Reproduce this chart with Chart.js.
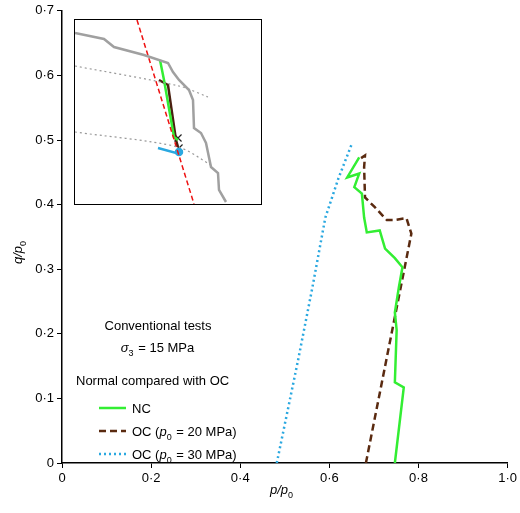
<!DOCTYPE html><html><head><meta charset="utf-8">
<script src="https://cdn.jsdelivr.net/npm/chart.js@4"></script>
<style>body{margin:0;background:#fff}#w{position:relative;width:520px;height:513px}
#m{position:absolute;left:0;top:0}#ib{position:absolute;left:74px;top:19px;width:186px;height:184px;border:1.5px solid #000;background:#fff;overflow:hidden}</style></head><body>
<div id="w"><canvas id="m" width="520" height="513"></canvas><div id="ib"><canvas id="ic" width="186" height="184"></canvas></div></div>
<script>
const ncP=[0.747,0.767,0.747,0.751,0.747,0.756,0.764,0.747,0.725,0.713,0.684,0.678,0.673,0.656,0.667,0.64,0.667];
const ncQ=[0,0.117,0.125,0.206,0.233,0.272,0.303,0.317,0.332,0.36,0.357,0.38,0.417,0.427,0.448,0.442,0.473];
const oc20P=[0.682,0.784,0.773,0.744,0.729,0.702,0.68,0.678,0.68,0.669];
const oc20Q=[0,0.355,0.379,0.376,0.376,0.396,0.411,0.458,0.476,0.471];
const oc30P=[0.482,0.53,0.562,0.591,0.62,0.651];
const oc30Q=[0,0.16,0.272,0.38,0.44,0.495];
const xTicks=[0,0.2,0.4,0.6,0.8,1.0];
const yTicks=[0,0.1,0.2,0.3,0.4,0.5,0.6,0.7];
// inset (relative units in inset box)
const inGrayX=[0,29,39,69,93,98,104,114,118,119,126,131,136,143,144,151];
const inGrayY=[171,165,157,149,141,132,124,114,104,76,71,61,37,31,14,2];
const inDot1X=[0,104,133];const inDot1Y=[138,118,107];
const inDot2X=[0,103,136];const inDot2Y=[72,57,39];
const inRedX=[62,119];const inRedY=[184,0];
const inNcX=[85,89,99,103];const inNcY=[144,124,67,64];
const inOcX=[84,93,101,103];const inOcY=[124,119,64,57];
const inO3X=[83,101,104];const inO3Y=[56,51,52];
const inXmX=[103,104];const inXmY=[66,56];
const pts=(a,b)=>a.map((v,i)=>({x:v,y:b[i]}));
const dot=s=>s.replace('.','·');
const F='"Liberation Sans", Arial, sans-serif';
const textPlugin={id:'t',afterDraw(c){const x=c.ctx;x.save();x.fillStyle='#000';x.font='13px '+F;x.textAlign='center';
x.fillText('Conventional tests',158,330);
x.font='13px '+F;const s1='σ',s2=' = 15 MPa';x.textAlign='left';
x.font='italic 13px '+F;let w1=x.measureText(s1).width;x.font='13px '+F;let w2=x.measureText(s2).width;let sx=158-(w1+7+w2)/2;
x.font='italic 13px '+F;x.fillText(s1,sx,352);x.font='9px '+F;x.fillText('3',sx+w1,356);x.font='13px '+F;x.fillText(s2,sx+w1+6,352);
x.fillText('Normal compared with OC',76,385);
const L=[['NC','#33ee33',[]],['OC (','#5a2a10',[7,4]],['OC (','#2aa8e0',[2,3]]];
L.forEach((l,i)=>{const y=408+i*23;x.strokeStyle=l[1];x.lineWidth=2.5;x.setLineDash(l[2]);x.beginPath();x.moveTo(99,y);x.lineTo(126,y);x.stroke();x.setLineDash([]);
x.fillStyle='#000';x.font='13px '+F;let px=132;x.fillText(l[0],px,y+5);if(i>0){px+=x.measureText(l[0]).width;x.font='italic 13px '+F;x.fillText('p',px,y+5);px+=x.measureText('p').width;x.font='9px '+F;x.fillText('0',px,y+9);px+=6;x.font='13px '+F;x.fillText(i==1?' = 20 MPa)':' = 30 MPa)',px,y+5);}});
x.font='italic 13px '+F;x.textAlign='left';x.fillText('p/p',270,494);let ww=x.measureText('p/p').width;x.font='9px '+F;x.fillText('0',270+ww,498);
x.translate(22,250);x.rotate(-Math.PI/2);x.font='italic 13px '+F;x.fillText('q/p',-14,0);ww=x.measureText('q/p').width;x.font='9px '+F;x.fillText('0',-14+ww,4);
x.restore();}};
new Chart(document.getElementById('m'),{type:'scatter',data:{datasets:[
{data:pts(ncP,ncQ),showLine:true,borderColor:'#33ee33',borderWidth:2.5,pointRadius:0},
{data:pts(oc20P,oc20Q),showLine:true,borderColor:'#5a2a10',borderWidth:2.5,borderDash:[7,4],pointRadius:0},
{data:pts(oc30P,oc30Q),showLine:true,borderColor:'#2aa8e0',borderWidth:2.5,borderDash:[2,3],pointRadius:0}]},
options:{responsive:false,animation:false,layout:{padding:{top:10,right:8}},plugins:{legend:{display:false},tooltip:{enabled:false}},
scales:{x:{min:0,max:1,afterBuildTicks(s){s.ticks=xTicks.map(v=>({value:v}))},afterFit(s){s.height=50},border:{color:'#000',width:1.5},grid:{drawOnChartArea:false,color:'#000',tickLength:5},ticks:{color:'#000',font:{size:13,family:F},callback:v=>v===1?'1·0':dot(String(v))}},
y:{min:0,max:0.7,afterBuildTicks(s){s.ticks=yTicks.map(v=>({value:v}))},afterFit(s){s.width=62},border:{color:'#000',width:1.5},grid:{drawOnChartArea:false,color:'#000',tickLength:5},ticks:{color:'#000',font:{size:13,family:F},callback:v=>dot(String(+v.toFixed(1)))}}}},plugins:[textPlugin]});
new Chart(document.getElementById('ic'),{type:'scatter',data:{datasets:[
{data:pts(inGrayX,inGrayY),showLine:true,borderColor:'#a0a0a0',borderWidth:2.5,pointRadius:0},
{data:pts(inDot1X,inDot1Y),showLine:true,borderColor:'#999',borderWidth:1.2,borderDash:[2,3],pointRadius:0,tension:0.3},
{data:pts(inDot2X,inDot2Y),showLine:true,borderColor:'#999',borderWidth:1.2,borderDash:[2,3],pointRadius:0,tension:0.3},
{data:pts(inRedX,inRedY),showLine:true,borderColor:'#ee1111',borderWidth:1.5,borderDash:[5,3],pointRadius:0},
{data:pts(inNcX,inNcY),showLine:true,borderColor:'#33ee33',borderWidth:2.5,pointRadius:0},
{data:pts(inOcX,inOcY),showLine:true,borderColor:'#4a2010',borderWidth:2.5,pointRadius:0},
{data:pts(inO3X,inO3Y),showLine:true,borderColor:'#2aa8e0',borderWidth:2.5,pointRadius:[0,0,3],pointBackgroundColor:'#2aa8e0'},
{data:pts(inXmX,inXmY),showLine:false,pointStyle:'cross',rotation:45,pointRadius:5,borderColor:'#222',borderWidth:1.2}]},
options:{responsive:false,animation:false,clip:false,layout:{padding:0,autoPadding:false},plugins:{legend:{display:false},tooltip:{enabled:false}},
scales:{x:{display:false,min:0,max:186},y:{display:false,min:0,max:184}}}});
</script></body></html>
